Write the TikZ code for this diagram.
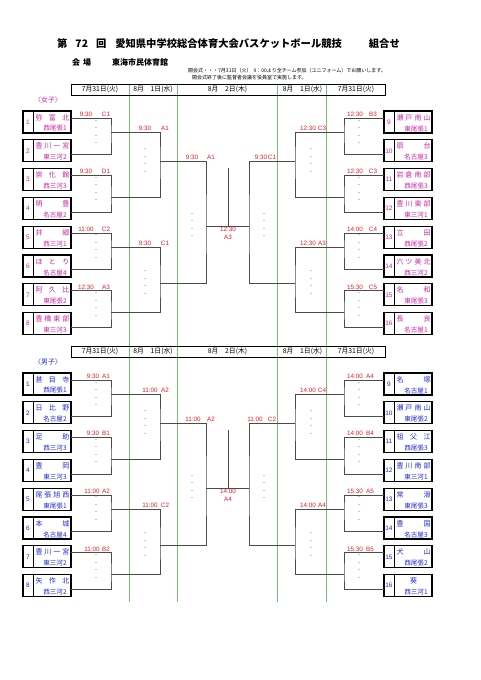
\documentclass[tikz,border=0pt]{standalone}
\usepackage{fontspec}
\setmainfont{Liberation Sans}
\newfontfamily\jpfont{Noto Sans CJK JP}
\usetikzlibrary{positioning}

\definecolor{girlcol}{RGB}{205,35,165}
\definecolor{boycol}{RGB}{30,40,215}
\definecolor{timecol}{RGB}{235,25,35}
\definecolor{daycol}{RGB}{120,190,120}
\definecolor{dashcol}{RGB}{80,90,175}
\definecolor{wirecol}{RGB}{75,75,75}

\newcommand{\spreadname}[1]{\makebox[34pt][s]{#1}}

\begin{document}
\begin{tikzpicture}[x=1pt, y=-1pt,
    team/.style={draw=black, line width=1.1pt, minimum width=48pt,
      minimum height=22pt, inner sep=0pt},
    teamnum/.style={inner sep=0pt, font=\fontsize{6.5}{7}\selectfont},
    teamname/.style={inner sep=0pt, font=\jpfont\fontsize{7}{8}\selectfont},
    teamdist/.style={inner sep=0pt, font=\jpfont\fontsize{6.6}{7}\selectfont},
    gametime/.style={inner sep=0pt, anchor=south, text=timecol,
      font=\fontsize{6.3}{8}\selectfont},
    gamedots/.style={inner sep=0pt, align=center, text=dashcol,
      font=\fontsize{6}{7.4}\selectfont},
    dayhead/.style={inner sep=0pt, font=\jpfont\fontsize{6.8}{8}\selectfont},
    wire/.style={draw=wirecol, line width=0.8pt},
    dayline/.style={draw=daycol, line width=0.7pt}
  ]
  \useasboundingbox (0,0) rectangle (481,680);

  % Titel
  \node[anchor=west, inner sep=0pt, font=\jpfont\bfseries\fontsize{10.3}{12}\selectfont]
    (title) at (57,44) {第\hspace{8pt}72\hspace{8pt}回\hspace{9pt}愛知県中学校総合体育大会バスケットボール競技\hspace{27pt}組合せ};
  \node[anchor=west, inner sep=0pt, font=\jpfont\bfseries\fontsize{8}{9}\selectfont]
    (venue) at (72,62) {会\hspace{3pt}場};
  \node[anchor=west, inner sep=0pt, font=\jpfont\bfseries\fontsize{8}{9}\selectfont]
    (hall) at (112,62) {東海市民体育館};
  \node[anchor=west, inner sep=0pt, font=\jpfont\fontsize{5}{6}\selectfont]
    (note1) at (188,71) {開会式・・・7月31日（火）\hspace{2pt}9：00より全チーム参加（ユニフォーム）でお願いします。};
  \node[anchor=west, inner sep=0pt, font=\jpfont\fontsize{5}{6}\selectfont]
    (note2) at (192,77.5) {開会式終了後に監督者会議を役員室で実施します。};

  % Tage
  \foreach \gx in {129.3,177.3,277.7,326.7}
    \draw[dayline] (\gx,84) -- (\gx,602);

  % Mannschaften
  \foreach \i/\nm/\ds in {1/弥\hfill{}富\hfill{}北/西尾張1, 2/豊\hfill{}川\hfill{}一\hfill{}宮/東三河2,
      3/崇\hfill{}化\hfill{}館/西三河3, 4/明\hfill{}豊/名古屋2, 5/井\hfill{}郷/西三河1,
      6/ほ\hfill{}と\hfill{}り/名古屋4, 7/阿\hfill{}久\hfill{}比/東尾張2,
      8/豊\hfill{}橋\hfill{}東\hfill{}部/東三河3, 9/瀬\hfill{}戸\hfill{}南\hfill{}山/東尾張1,
      10/扇\hfill{}台/名古屋3, 11/岩\hfill{}倉\hfill{}南\hfill{}部/西尾張3,
      12/豊\hfill{}川\hfill{}東\hfill{}部/東三河1, 13/立\hfill{}田/西尾張2,
      14/六\hfill{}ツ\hfill{}美\hfill{}北/西三河2, 15/名\hfill{}和/東尾張3, 16/長\hfill{}良/名古屋1} {
    \pgfmathsetmacro{\row}{mod(\i-1,8)}
    \pgfmathsetmacro{\bx}{\i>8 ? 408 : 47}
    \pgfmathsetmacro{\by}{122+\row*28.8}
    \pgfmathsetmacro{\ox}{\i>8 ? 384 : 71}
    \pgfmathsetmacro{\oy}{\by+(mod(\i,2)==1 ? -4 : 3.5)}
    \node[team] (g\i) at (\bx,\by) {};
    \draw[line width=0.9pt] ([xshift=11pt]g\i.north west) -- ([xshift=11pt]g\i.south west);
    \node[teamnum, text=girlcol] (g\i num) at ([xshift=5.5pt]g\i.west) {\i};
    \node[teamname, text=girlcol] (g\i name) at ([xshift=5.5pt,yshift=-7pt]g\i.north) {\spreadname{\nm}};
    \node[teamdist, text=girlcol] (g\i dist) at ([xshift=8pt,yshift=5pt]g\i.south) {\ds};
    \coordinate (g\i out) at (\ox,\oy);
  }
  \foreach \i/\nm/\ds in {1/甚\hfill{}目\hfill{}寺/西尾張1, 2/日\hfill{}比\hfill{}野/名古屋2,
      3/足\hfill{}助/西三河3, 4/豊\hfill{}岡/東三河3, 5/尾\hfill{}張\hfill{}旭\hfill{}西/東尾張1,
      6/本\hfill{}城/名古屋4, 7/豊\hfill{}川\hfill{}一\hfill{}宮/東三河2, 8/矢\hfill{}作\hfill{}北/西三河2,
      9/名\hfill{}塚/名古屋1, 10/瀬\hfill{}戸\hfill{}南\hfill{}山/東尾張2, 11/祖\hfill{}父\hfill{}江/西尾張3,
      12/豊\hfill{}川\hfill{}南\hfill{}部/東三河1, 13/常\hfill{}滑/東尾張3, 14/豊\hfill{}国/名古屋3,
      15/犬\hfill{}山/西尾張2, 16/\hfill{}葵\hfill{}/西三河1} {
    \pgfmathsetmacro{\row}{mod(\i-1,8)}
    \pgfmathsetmacro{\bx}{\i>8 ? 408 : 47}
    \pgfmathsetmacro{\by}{384+\row*28.8}
    \pgfmathsetmacro{\ox}{\i>8 ? 384 : 71}
    \pgfmathsetmacro{\oy}{\by+(mod(\i,2)==1 ? -4 : 3.5)}
    \node[team] (b\i) at (\bx,\by) {};
    \draw[line width=0.9pt] ([xshift=11pt]b\i.north west) -- ([xshift=11pt]b\i.south west);
    \node[teamnum, text=boycol] (b\i num) at ([xshift=5.5pt]b\i.west) {\i};
    \node[teamname, text=boycol] (b\i name) at ([xshift=5.5pt,yshift=-7pt]b\i.north) {\spreadname{\nm}};
    \node[teamdist, text=boycol] (b\i dist) at ([xshift=8pt,yshift=5pt]b\i.south) {\ds};
    \coordinate (b\i out) at (\ox,\oy);
  }

  % Spielzeiten
  \foreach \tx/\cx/\ly/\tm/\cd [count=\k] in {86/106/118/9:30/C1, 86/106/175/9:30/D1,
      86/106/233/11:00/C2, 86/106/291/12:30/A3, 355/373/118/12:30/B3, 355/373/175/12:30/C3,
      355/373/233/14:00/C4, 355/373/291/15:30/C5, 145/165/132/9:30/A1, 145/165/247/9:30/C1,
      308/322/132/12:30/C3, 308/322/247/12:30/A3, 192/211/161/9:30/A1, 261/272/161/9:30/C1} {
    \node[gametime] (gtime\k) at (\tx,\ly-1.5) {\tm};
    \node[gametime] (gcode\k) at (\cx,\ly-1.5) {\cd};
  }
  \foreach \tx/\cx/\ly/\tm/\cd [count=\k] in {93/106/118/9:30/A1, 93/106/175/9:30/B1,
      92/106/233/11:00/A2, 92/106/291/11:00/B2, 355/370/118/14:00/A4, 355/370/175/14:00/B4,
      355/370/233/15:30/A5, 355/370/291/15:30/B5, 150/165/132/11:00/A2, 150/165/247/11:00/C2,
      308/322/132/14:00/C4, 308/322/247/14:00/A4, 193/211/161/11:00/A2, 255/272/161/11:00/C2} {
    \node[gametime] (btime\k) at (\tx,\ly+260.5) {\tm};
    \node[gametime] (bcode\k) at (\cx,\ly+260.5) {\cd};
  }

  % Turnierbaum
  \foreach \grp/\yo/\col/\lab/\ft/\fc in {g/0/girlcol/女子/12:30/A3, b/262/boycol/男子/14:00/A4} {
    \node[draw, line width=0.9pt, minimum width=314pt, minimum height=11pt, inner sep=0pt]
      (\grp head) at (228,89.5+\yo) {};
    \node[dayhead] (\grp day1) at (100,89.5+\yo) {7月31日(火)};
    \node[dayhead] (\grp day2) at (153,89.5+\yo) {8月　1日(水)};
    \node[dayhead] (\grp day3) at (227.5,89.5+\yo) {8月　2日(木)};
    \node[dayhead] (\grp day4) at (302.5,89.5+\yo) {8月　1日(水)};
    \node[dayhead] (\grp day5) at (356,89.5+\yo) {7月31日(火)};
    \node[inner sep=0pt, text=\col, font=\jpfont\fontsize{6.8}{8}\selectfont]
      (\grp label) at (48,100+\yo) {〈\lab{}〉};

    \coordinate (\grp L1a) at (111,132+\yo);
    \coordinate (\grp L1b) at (111,197+\yo);
    \coordinate (\grp L1c) at (111,247+\yo);
    \coordinate (\grp L1d) at (111,312+\yo);
    \coordinate (\grp R1a) at (344,132+\yo);
    \coordinate (\grp R1b) at (344,197+\yo);
    \coordinate (\grp R1c) at (344,247+\yo);
    \coordinate (\grp R1d) at (344,312+\yo);
    \coordinate (\grp L2a) at (160,161+\yo);
    \coordinate (\grp L2b) at (160,283+\yo);
    \coordinate (\grp R2a) at (295,161+\yo);
    \coordinate (\grp R2b) at (295,283+\yo);
    \coordinate (\grp L3) at (206,226+\yo);
    \coordinate (\grp R3) at (249,226+\yo);
    \coordinate (\grp top) at (228,168+\yo);

    \draw[wire] (\grp 1out) -| (\grp L1a) |- (\grp 2out);
    \draw[wire] (\grp 3out) -| (\grp L1b) |- (\grp 4out);
    \draw[wire] (\grp 5out) -| (\grp L1c) |- (\grp 6out);
    \draw[wire] (\grp 7out) -| (\grp L1d) |- (\grp 8out);
    \draw[wire] (\grp 9out) -| (\grp R1a) |- (\grp 10out);
    \draw[wire] (\grp 11out) -| (\grp R1b) |- (\grp 12out);
    \draw[wire] (\grp 13out) -| (\grp R1c) |- (\grp 14out);
    \draw[wire] (\grp 15out) -| (\grp R1d) |- (\grp 16out);
    \draw[wire] (\grp L1a) -| (\grp L2a) |- (\grp L1b);
    \draw[wire] (\grp L1c) -| (\grp L2b) |- (\grp L1d);
    \draw[wire] (\grp R1a) -| (\grp R2a) |- (\grp R1b);
    \draw[wire] (\grp R1c) -| (\grp R2b) |- (\grp R1d);
    \draw[wire] (\grp L2a) -| (\grp L3) |- (\grp L2b);
    \draw[wire] (\grp R2a) -| (\grp R3) |- (\grp R2b);
    \draw[wire] (\grp L3) -- (\grp R3);
    \draw[wire] (\grp top) -- (\grp top |- \grp L3);
    \node[gametime, anchor=north, align=center] (\grp fin) at (228,227+\yo) {\ft\\\fc};

    \foreach \dx/\dy [count=\k] in {96/132.5, 96/189.5, 96/247, 96/305, 359/132.5,
        359/189.5, 359/247, 359/305, 145/161, 145/283, 311/161, 311/283, 192/225.5, 264/225.5}
      \node[gamedots] (\grp dots\k) at (\dx,\dy+\yo) {-\\-\\-\\-};
  }
\end{tikzpicture}
\end{document}
